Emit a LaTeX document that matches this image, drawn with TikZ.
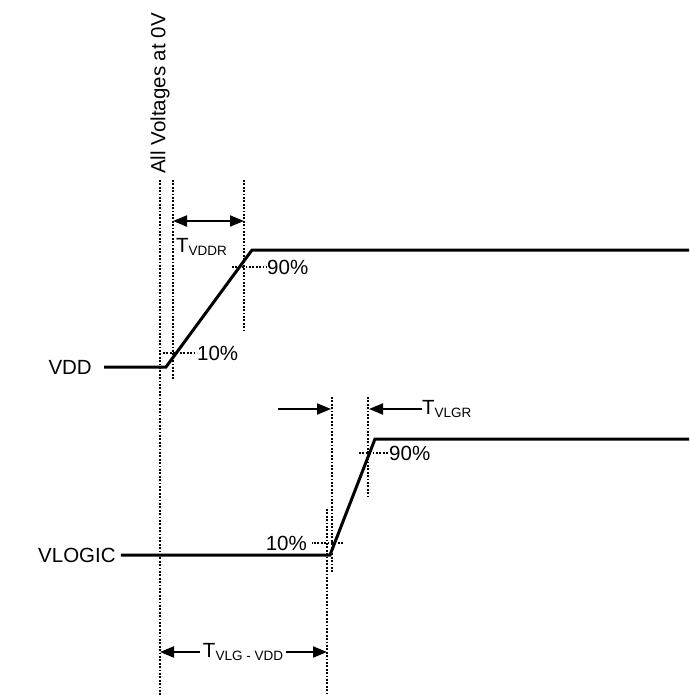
\documentclass[tikz,border=0pt]{standalone}
\usepackage{fontspec}
\setmainfont{Liberation Sans}
\usetikzlibrary{arrows.meta}
\newcommand\lowsub[1]{{\fontsize{13.5}{13.5}\selectfont\raisebox{-3.5pt}{#1}}}
\begin{document}
\begin{tikzpicture}[x=1pt,y=-1pt,
  wave/.style={line width=3pt,line join=miter},
  guide/.style={line width=1.4pt,dash pattern=on 1.8pt off 1.6pt},
  dimarrow/.style={line width=2pt,-{Triangle[length=14pt,width=11pt]}},
  dimboth/.style={line width=2pt,{Triangle[length=14pt,width=11pt]}-{Triangle[length=14pt,width=11pt]}},
  lbl/.style={font=\fontsize{20.5}{20.5}\selectfont,inner sep=0pt}]
\useasboundingbox (0,0) rectangle (689,695);
% guide lines
\coordinate (a1) at (160,180); \coordinate (a2) at (160,695);
\coordinate (b1) at (173,180); \coordinate (b2) at (173,380);
\coordinate (c1) at (244,180); \coordinate (c2) at (244,330);
\coordinate (d1) at (332,397); \coordinate (d2) at (332,572);
\coordinate (e1) at (327,509); \coordinate (e2) at (327,695);
\coordinate (f1) at (368,397); \coordinate (f2) at (368,497);
\draw[guide] (a1) -- (a2);
\draw[guide] (b1) -- (b2);
\draw[guide] (c1) -- (c2);
\draw[guide] (d1) -- (d2);
\draw[guide] (e1) -- (e2);
\draw[guide] (f1) -- (f2);
% title
\node[lbl,rotate=90,anchor=west] (title) at (160,174) {All Voltages at 0V};
% VDD waveform
\node[lbl,anchor=east] (vdd) at (92,367) {VDD};
\coordinate (v1) at (166,367); \coordinate (v2) at (252,250); \coordinate (v3) at (689,250);
\draw[wave] (vdd.east) ++(12,0) coordinate (v0) -- (v1) -- (v2) -- (v3);
% VDD levels
\node[lbl,anchor=west] (p10a) at (197,353) {10\%};
\coordinate (h10a) at (163,353);
\draw[guide] (h10a) -- (p10a.west);
\node[lbl,anchor=west] (p90a) at (267,267) {90\%};
\coordinate (h90a) at (232,267);
\draw[guide] (h90a) -- (p90a.west);
% T_VDDR
\coordinate (r1) at (173,221); \coordinate (r2) at (244,221);
\draw[dimboth] (r1) -- (r2);
\node[lbl,anchor=base west] (tvddr) at (176,252) {T\lowsub{VDDR}};
% VLOGIC waveform
\node[lbl,anchor=west] (vlogic) at (38,555) {VLOGIC};
\coordinate (w1) at (330,555); \coordinate (w2) at (375,439); \coordinate (w3) at (689,439);
\draw[wave] (vlogic.east) ++(5,0) coordinate (w0) -- (w1) -- (w2) -- (w3);
% VLOGIC levels
\node[lbl,anchor=west] (p90b) at (389,453) {90\%};
\coordinate (h90b) at (359,453);
\draw[guide] (h90b) -- (p90b.west);
\node[lbl,anchor=east] (p10b) at (307,543) {10\%};
\coordinate (h10b) at (343,543);
\draw[guide] (h10b) -- ([xshift=5pt]p10b.east);
% T_VLGR arrows
\coordinate (g0) at (278,409); \coordinate (g1) at (331,409);
\draw[dimarrow] (g0) -- (g1);
\node[lbl,anchor=west] (tvlgr) at (422,409) {T\lowsub{VLGR}};
\coordinate (g2) at (369,409);
\draw[dimarrow] (tvlgr.west) -- (g2);
% T_VLG-VDD
\node[lbl,inner xsep=3pt] (tvlgvdd) at (243,652) {T\lowsub{VLG - VDD}};
\coordinate (k1) at (160,652); \coordinate (k2) at (327,652);
\draw[dimarrow] (tvlgvdd.west) -- (k1);
\draw[dimarrow] (tvlgvdd.east) -- (k2);
\end{tikzpicture}
\end{document}
